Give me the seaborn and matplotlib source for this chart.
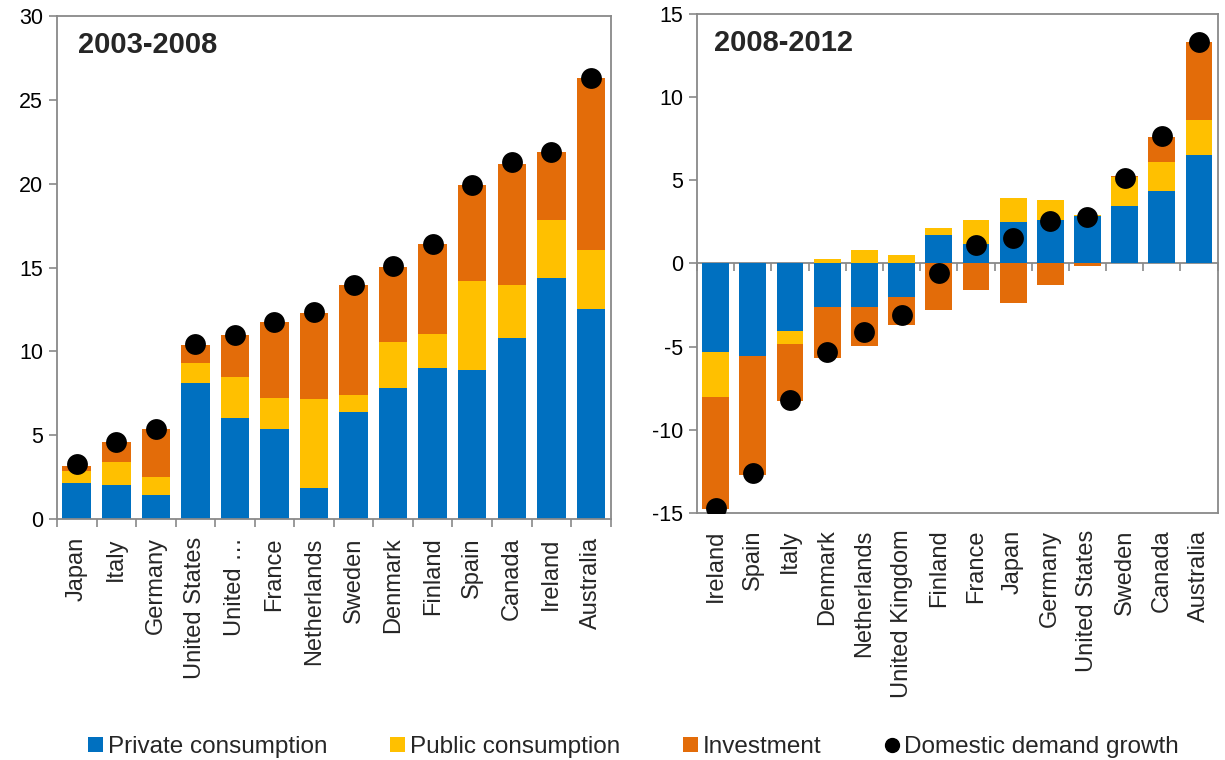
import numpy as np
import pandas as pd
import matplotlib
matplotlib.use("Agg")
import matplotlib.pyplot as plt
from matplotlib.patches import Patch
from matplotlib.lines import Line2D
import seaborn as sns

# ---------------- data ----------------
countries_a = ["Japan", "Italy", "Germany", "United States", "United …", "France",
               "Netherlands", "Sweden", "Denmark", "Finland", "Spain", "Canada",
               "Ireland", "Australia"]
private_a = [2.18, 2.04, 1.41, 8.12, 6.02, 5.37, 1.84, 6.36, 7.80, 8.99, 8.87, 10.79, 14.40, 12.53]
public_a = [0.71, 1.37, 1.12, 1.21, 2.46, 1.86, 5.33, 1.01, 2.77, 2.02, 5.33, 3.19, 3.42, 3.53]
invest_a = [0.26, 1.19, 2.84, 1.07, 2.51, 4.53, 5.13, 6.57, 4.48, 5.37, 5.70, 7.22, 4.04, 10.22]
demand_a = [3.3, 4.6, 5.4, 10.45, 11.0, 11.75, 12.35, 13.95, 15.1, 16.4, 19.95, 21.3, 21.9, 26.3]

countries_b = ["Ireland", "Spain", "Italy", "Denmark", "Netherlands", "United Kingdom",
               "Finland", "France", "Japan", "Germany", "United States", "Sweden",
               "Canada", "Australia"]
private_b = [-5.30, -5.59, -4.04, -2.60, -2.60, -2.04, 1.73, 1.14, 2.49, 2.59, 2.84, 3.47, 4.37, 6.49]
public_b = [-2.76, 0.0, -0.82, 0.27, 0.82, 0.51, 0.41, 1.45, 1.45, 1.23, 0.08, 1.73, 1.69, 2.12]
invest_b = [-6.67, -7.10, -3.41, -3.10, -2.38, -1.69, -2.82, -1.61, -2.39, -1.29, -0.16, 0.07, 1.55, 4.66]
demand_b = [-14.7, -12.6, -8.2, -5.3, -4.1, -3.1, -0.6, 1.08, 1.55, 2.57, 2.78, 5.14, 7.67, 13.29]

series_names = ["Private consumption", "Public consumption", "Investment"]
dot_name = "Domestic demand growth"
colors = ["#0070C0", "#FFC000", "#E36C09"]
gray = "#898989"

# ---------------- style ----------------
sns.set_theme(style="white")
plt.rcParams["font.family"] = ["Liberation Sans", "DejaVu Sans"]
plt.rcParams["axes.unicode_minus"] = False

fig = plt.figure(figsize=(12.25, 7.6), dpi=100)
ax1 = fig.add_axes([0.0465, 0.317, 0.452, 0.662])
ax2 = fig.add_axes([0.569, 0.325, 0.425, 0.657])


def stacked(ax, countries, series, demand):
    pos = np.zeros(len(countries))
    neg = np.zeros(len(countries))
    for vals, col in zip(series, colors):
        vals = np.asarray(vals, dtype=float)
        bottom = np.where(vals >= 0, pos, neg)
        df = pd.DataFrame({"country": countries, "value": vals})
        sns.barplot(data=df, x="country", y="value", order=countries, ax=ax,
                    color=col, saturation=1, width=0.72, bottom=bottom,
                    linewidth=0, errorbar=None, zorder=2)
        pos = np.where(vals >= 0, pos + vals, pos)
        neg = np.where(vals < 0, neg + vals, neg)
    dd = pd.DataFrame({"country": countries, "value": demand})
    sns.stripplot(data=dd, x="country", y="value", order=countries, ax=ax,
                  jitter=False, color="black", size=15, linewidth=0, zorder=4)
    ax.set_xlabel("")
    ax.set_ylabel("")
    n = len(countries)
    ax.set_xlim(-0.5, n - 0.5)
    ax.set_xticks(range(n))
    ax.set_xticklabels(countries, rotation=90, fontsize=17)
    for sp in ax.spines.values():
        sp.set_visible(True)
        sp.set_color(gray)
        sp.set_linewidth(1.3)
    ax.tick_params(axis="y", which="major", left=True, length=6, width=1.2,
                   color=gray, labelsize=15.5, labelcolor="black", pad=4)
    ax.grid(False)


stacked(ax1, countries_a, [private_a, public_a, invest_a], demand_a)
ax1.set_ylim(0, 30)
ax1.set_yticks(range(0, 31, 5))
ax1.set_xticks(np.arange(-0.5, len(countries_a), 1), minor=True)
ax1.tick_params(axis="x", which="major", length=0, pad=13)
ax1.tick_params(axis="x", which="minor", bottom=True, length=6, width=1.2, color=gray)
ax1.text(0.038, 0.942, "2003-2008", transform=ax1.transAxes, fontsize=21,
         fontweight="bold", va="center", ha="left")

stacked(ax2, countries_b, [private_b, public_b, invest_b], demand_b)
ax2.set_ylim(-15, 15)
ax2.set_yticks(range(-15, 16, 5))
ax2.tick_params(axis="x", which="major", length=0, pad=12)
sec = ax2.secondary_xaxis(0, transform=ax2.transData)
sec.set_xticks(np.arange(-0.5, len(countries_b), 1))
sec.set_xticklabels([])
sec.tick_params(axis="x", length=6, width=1.2, color=gray, direction="out")
sec.spines["bottom"].set_color(gray)
sec.spines["bottom"].set_linewidth(1.3)
ax2.text(0.033, 0.942, "2008-2012", transform=ax2.transAxes, fontsize=21,
         fontweight="bold", va="center", ha="left")

handles = [Patch(facecolor=c, edgecolor="none") for c in colors]
handles.append(Line2D([], [], marker="o", color="black", linestyle="none", markersize=10))
fig.legend(handles, series_names + [dot_name], loc="lower center",
           bbox_to_anchor=(0.517, -0.02), ncol=4, frameon=False, fontsize=17.5,
           handlelength=0.6, handleheight=0.6, handletextpad=0.2, columnspacing=2.6,
           borderaxespad=0.3)

fig.savefig("out.png", dpi=100)
